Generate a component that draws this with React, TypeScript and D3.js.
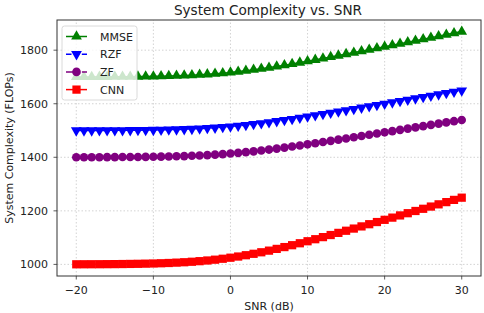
import React from "react";
import * as d3 from "d3";

const snr: number[] = d3.range(-20, 31, 1);

const mmse: number[] = [
  1700, 1700, 1700, 1700.5, 1700.6, 1700.8, 1701, 1701.2, 1701.5, 1701.9,
  1702.3, 1702.9, 1703.6, 1704.5, 1705.5, 1706.7, 1708.2, 1710, 1712, 1714.3,
  1717, 1720, 1723.3, 1726.9, 1730.8, 1735, 1739.4, 1744, 1748.8, 1753.7,
  1758.8, 1764, 1769.3, 1774.6, 1780, 1785.5, 1791, 1796.5, 1802, 1807.6,
  1813.2, 1818.8, 1824.4, 1830, 1835.6, 1841.3, 1846.9, 1852.5, 1858.2, 1863.8,
  1869.4,
];

const rzf: number[] = [
  1500.2, 1500.3, 1500.3, 1500.4, 1500.5, 1500.7, 1500.8, 1501.1, 1501.3, 1501.7,
  1502.1, 1502.6, 1503.2, 1503.9, 1504.9, 1505.9, 1507.2, 1508.8, 1510.6, 1512.7,
  1515, 1517.6, 1520.6, 1523.7, 1527.2, 1530.9, 1534.7, 1538.8, 1543, 1547.4,
  1551.9, 1556.5, 1561.1, 1565.8, 1570.6, 1575.4, 1580.3, 1585.1, 1590, 1594.9,
  1599.9, 1604.8, 1609.8, 1614.7, 1619.7, 1624.6, 1629.6, 1634.6, 1639.6, 1644.5,
  1649.5,
];

const zf: number[] = [
  1400.2, 1400.3, 1400.3, 1400.4, 1400.5, 1400.6, 1400.8, 1401, 1401.2, 1401.5,
  1401.9, 1402.4, 1403, 1403.7, 1404.5, 1405.5, 1406.8, 1408.2, 1409.9, 1411.8,
  1414, 1416.5, 1419.2, 1422.2, 1425.4, 1428.8, 1432.4, 1436.2, 1440.2, 1444.3,
  1448.4, 1452.7, 1457, 1461.4, 1465.9, 1470.4, 1474.9, 1479.5, 1484, 1488.6,
  1493.2, 1497.8, 1502.4, 1507.1, 1511.7, 1516.3, 1521, 1525.6, 1530.3, 1534.9,
  1539.5,
];

const cnn: number[] = [
  1000.4, 1000.5, 1000.6, 1000.7, 1000.9, 1001.1, 1001.4, 1001.8, 1002.2, 1002.8,
  1003.4, 1004.3, 1005.3, 1006.6, 1008.1, 1009.9, 1012.1, 1014.6, 1017.6, 1021.1,
  1025, 1029.4, 1034.3, 1039.6, 1045.3, 1051.4, 1057.9, 1064.7, 1071.7, 1079,
  1086.5, 1094.1, 1101.9, 1109.7, 1117.7, 1125.7, 1133.8, 1141.9, 1150.1, 1158.2,
  1166.5, 1174.7, 1182.9, 1191.2, 1199.5, 1207.7, 1216, 1224.3, 1232.6, 1240.9,
  1249.2,
];

const xTicks: number[] = [-20, -10, 0, 10, 20, 30];
const yTicks: number[] = [1000, 1200, 1400, 1600, 1800];

const seriesNames = ["MMSE", "RZF", "ZF", "CNN"];

const W = 484;
const H = 313;
const M = { left: 57, right: 3, top: 20, bottom: 37 };
const FONT = "DejaVu Sans, sans-serif";
const FS = 11;

type Series = {
  name: string;
  values: number[];
  color: string;
  marker: "up" | "down" | "circle" | "square";
  dash: string | undefined;
};

const series: Series[] = [
  { name: seriesNames[0], values: mmse, color: "#008000", marker: "up", dash: undefined },
  { name: seriesNames[1], values: rzf, color: "#0000ff", marker: "down", dash: "5.5,2.4" },
  { name: seriesNames[2], values: zf, color: "#800080", marker: "circle", dash: "9.6,2.4,1.5,2.4" },
  { name: seriesNames[3], values: cnn, color: "#ff0000", marker: "square", dash: undefined },
];

function markerPath(kind: Series["marker"]): string {
  switch (kind) {
    case "up":
      return d3.symbol(d3.symbolTriangle, 50)()!;
    case "down":
      return d3.symbol(d3.symbolTriangle, 50)()!;
    case "circle":
      return d3.symbol(d3.symbolCircle, 58)()!;
    case "square":
      return d3.symbol(d3.symbolSquare, 68)()!;
  }
}

export default function App() {
  const x = d3
    .scaleLinear()
    .domain([-22.5, 32.5])
    .range([M.left, W - M.right]);
  const y = d3
    .scaleLinear()
    .domain([956.7, 1912.7])
    .range([H - M.bottom, M.top]);

  const x0 = M.left;
  const x1 = W - M.right;
  const y0 = H - M.bottom;
  const y1 = M.top;

  const legendX = 62;
  const legendY = 26;
  const rowH = 17.7;

  return (
    <svg
      width={W}
      height={H}
      style={{ position: "absolute", left: 0, top: 0, background: "#fff" }}
      fontFamily={FONT}
    >
      <rect x={0} y={0} width={W} height={H} fill="#fff" />
      {/* grid */}
      <g stroke="#c8c8c8" strokeWidth={0.8} strokeDasharray="1.5,2">
        {xTicks.map((t) => (
          <line key={"gx" + t} x1={x(t)} x2={x(t)} y1={y0} y2={y1} />
        ))}
        {yTicks.map((t) => (
          <line key={"gy" + t} x1={x0} x2={x1} y1={y(t)} y2={y(t)} />
        ))}
      </g>

      {/* series */}
      {series.map((s) => {
        const line = d3
          .line<number>()
          .x((_, i) => x(snr[i]))
          .y((v) => y(v));
        const p = markerPath(s.marker);
        return (
          <g key={s.name}>
            <path
              d={line(s.values) || ""}
              fill="none"
              stroke={s.color}
              strokeWidth={1.5}
              strokeDasharray={s.dash}
            />
            {s.values.map((v, i) => (
              <path
                key={i}
                d={p}
                transform={`translate(${x(snr[i])},${y(v)})${s.marker === "down" ? " rotate(180)" : ""}`}
                fill={s.color}
              />
            ))}
          </g>
        );
      })}

      {/* frame */}
      <rect
        x={x0}
        y={y1}
        width={x1 - x0}
        height={y0 - y1}
        fill="none"
        stroke="#333"
        strokeWidth={1}
      />

      {/* x ticks */}
      {xTicks.map((t) => (
        <g key={"xt" + t}>
          <line x1={x(t)} x2={x(t)} y1={y0} y2={y0 + 3.5} stroke="#333" strokeWidth={0.8} />
          <text x={x(t)} y={y0 + 17.5} textAnchor="middle" fontSize={FS} fill="#222">
            {t < 0 ? "\u2212" + Math.abs(t) : String(t)}
          </text>
        </g>
      ))}
      {/* y ticks */}
      {yTicks.map((t) => (
        <g key={"yt" + t}>
          <line x1={x0 - 3.5} x2={x0} y1={y(t)} y2={y(t)} stroke="#333" strokeWidth={0.8} />
          <text x={x0 - 9} y={y(t) + 4} textAnchor="end" fontSize={FS} fill="#222">
            {t}
          </text>
        </g>
      ))}

      {/* labels */}
      <text x={(x0 + x1) / 2} y={310} textAnchor="middle" fontSize={FS} fill="#222">
        SNR (dB)
      </text>
      <text
        transform={`translate(12.5,${(y0 + y1) / 2}) rotate(-90)`}
        textAnchor="middle"
        fontSize={FS}
        fill="#222"
      >
        System Complexity (FLOPs)
      </text>
      <text x={(x0 + x1) / 2 - 1} y={15} textAnchor="middle" fontSize={13.6} fill="#222">
        System Complexity vs. SNR
      </text>

      {/* legend */}
      <rect
        x={legendX}
        y={legendY}
        width={75}
        height={74}
        rx={2.5}
        fill="#fff"
        fillOpacity={0.8}
        stroke="#d0d0d0"
        strokeWidth={0.8}
      />
      {series.map((s, i) => {
        const cy = legendY + 10.5 + i * rowH;
        const p = markerPath(s.marker);
        return (
          <g key={"lg" + s.name}>
            <line
              x1={legendX + 4}
              x2={legendX + 25}
              y1={cy}
              y2={cy}
              stroke={s.color}
              strokeWidth={1.5}
              strokeDasharray={s.dash}
            />
            <path
              d={p}
              transform={`translate(${legendX + 14.5},${cy})${s.marker === "down" ? " rotate(180)" : ""}`}
              fill={s.color}
            />
            <text x={legendX + 38} y={cy + 4} fontSize={FS} fill="#222">
              {s.name}
            </text>
          </g>
        );
      })}
    </svg>
  );
}
